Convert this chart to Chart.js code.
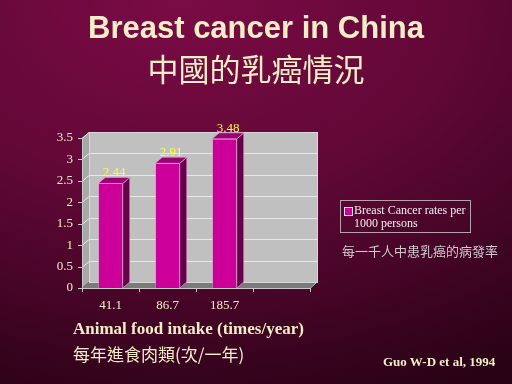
<!DOCTYPE html>
<html><head><meta charset="utf-8">
<script src="https://cdn.jsdelivr.net/npm/chart.js@4/dist/chart.umd.min.js"></script>
<style>
html,body{margin:0;padding:0;}
body{width:512px;height:384px;overflow:hidden;position:relative;
 background:radial-gradient(ellipse 120% 110% at 35% 0%, #7a0b45 0%, #620837 45%, #3e0422 80%, #2a0216 100%);}
#wrap{position:absolute;left:0;top:0;width:512px;height:384px;}
.t{position:absolute;white-space:nowrap;}
#t1{left:0;width:512px;text-align:center;top:10px;font:bold 31px "Liberation Sans",Arial,sans-serif;color:#f3eec6;}
#t2{left:0;width:512px;text-align:center;top:49px;font:31px "Noto Sans CJK TC",sans-serif;color:#f3eec6;line-height:38px;}
#ax1{left:73px;top:319px;font:bold 17px "Liberation Serif",serif;color:#f3eec6;}
#ax2{left:73px;top:341px;font:17px "Noto Sans CJK TC",serif;color:#f3eec6;}
#src{left:383px;top:354px;font:bold 13px "Liberation Serif",serif;color:#f3eec6;}
#leg{left:340px;top:200px;width:131px;height:33px;border:1px solid #b8a0ac;box-sizing:border-box;font:12px "Liberation Serif",serif;color:#f0f0f0;line-height:13px;padding:3px 0 0 13px;}
#leg i{position:absolute;left:3px;top:6px;width:7px;height:7px;background:#cc0099;border:1px solid #ddd;}
#note{left:342px;top:241px;font:13px "Noto Sans CJK TC",sans-serif;color:#d0c8cc;}
</style></head>
<body>
<div id="wrap"><canvas id="c" width="512" height="384"></canvas></div>
<div class="t" id="t1">Breast cancer in China</div>
<div class="t" id="t2">中國的乳癌情況</div>
<div class="t" id="leg"><i></i>Breast Cancer rates per<br>1000 persons</div>
<div class="t" id="note">每一千人中患乳癌的病發率</div>
<div class="t" id="ax1">Animal food intake (times/year)</div>
<div class="t" id="ax2">每年進食肉類(次/一年)</div>
<div class="t" id="src">Guo W-D et al, 1994</div>
<script>
const categories = ["41.1", "86.7", "185.7", ""];
const rates = [2.44, 2.91, 3.48, null];
const yTicks = [0, 0.5, 1, 1.5, 2, 2.5, 3, 3.5];
const seriesLabel = "Breast Cancer rates per 1000 persons";

const DX = 7, DY = 6;

const wallPlugin = {
  id: 'wall',
  beforeDatasetsDraw(chart) {
    const {ctx, chartArea: a, scales: {y}} = chart;
    ctx.save();
    ctx.fillStyle = '#c0c0c0';
    ctx.fillRect(a.left + DX, a.top - DY, a.right - a.left, a.bottom - a.top);
    ctx.beginPath();
    ctx.moveTo(a.left, a.top); ctx.lineTo(a.left + DX, a.top - DY);
    ctx.lineTo(a.left + DX, a.bottom - DY); ctx.lineTo(a.left, a.bottom);
    ctx.closePath(); ctx.fillStyle = '#a8a8a8'; ctx.fill();
    ctx.beginPath();
    ctx.moveTo(a.left, a.bottom); ctx.lineTo(a.left + DX, a.bottom - DY);
    ctx.lineTo(a.right + DX, a.bottom - DY); ctx.lineTo(a.right, a.bottom);
    ctx.closePath(); ctx.fillStyle = '#7a7a7a'; ctx.fill();
    ctx.strokeStyle = '#e8e8e8'; ctx.lineWidth = 1;
    yTicks.forEach(v => {
      if (v === 0) return;
      const py = Math.round(y.getPixelForValue(v)) + 0.5;
      ctx.beginPath();
      ctx.moveTo(a.left, py); ctx.lineTo(a.left + DX, py - DY);
      ctx.lineTo(a.right + DX, py - DY);
      ctx.stroke();
    });
    ctx.strokeStyle = '#d8d8d8';
    ctx.strokeRect(a.left + DX + 0.5, a.top - DY + 0.5, a.right - a.left, a.bottom - a.top);
    ctx.strokeStyle = '#c8c8c8';
    ctx.beginPath();
    ctx.moveTo(a.left + 0.5, a.top); ctx.lineTo(a.left + 0.5, a.bottom + 0.5);
    ctx.lineTo(a.right, a.bottom + 0.5); ctx.lineTo(a.right + DX, a.bottom - DY);
    ctx.stroke();
    yTicks.forEach(v => {
      const py = Math.round(y.getPixelForValue(v)) + 0.5;
      ctx.beginPath(); ctx.moveTo(a.left - 4, py); ctx.lineTo(a.left, py); ctx.stroke();
    });
    const n = categories.length, w = (a.right - a.left) / n;
    for (let i = 0; i <= n; i++) {
      const px = Math.round(a.left + i * w) + 0.5;
      ctx.beginPath(); ctx.moveTo(px, a.bottom); ctx.lineTo(px, a.bottom + 4); ctx.stroke();
    }
    ctx.restore();
  },
  afterDatasetsDraw(chart) {
    const {ctx} = chart;
    const meta = chart.getDatasetMeta(0);
    ctx.save();
    meta.data.forEach((bar, i) => {
      const v = rates[i];
      if (v == null) return;
      const l = bar.x - bar.width / 2, r = bar.x + bar.width / 2, t = bar.y, b = bar.base;
      ctx.beginPath();
      ctx.moveTo(r, t); ctx.lineTo(r + DX, t - DY); ctx.lineTo(r + DX, b - DY); ctx.lineTo(r, b);
      ctx.closePath(); ctx.fillStyle = '#66004a'; ctx.fill();
      ctx.strokeStyle = '#f0a0d8'; ctx.lineWidth = 0.6; ctx.stroke();
      ctx.beginPath();
      ctx.moveTo(l, t); ctx.lineTo(l + DX, t - DY); ctx.lineTo(r + DX, t - DY); ctx.lineTo(r, t);
      ctx.closePath(); ctx.fillStyle = '#990073'; ctx.fill(); ctx.stroke();
      ctx.fillStyle = '#ffff33';
      ctx.font = '13px "Liberation Serif", serif';
      ctx.textAlign = 'center'; ctx.textBaseline = 'bottom';
      ctx.fillText(v.toFixed(2), bar.x + DX / 2, t - DY + 2);
    });
    ctx.restore();
  }
};

new Chart(document.getElementById('c'), {
  type: 'bar',
  data: {
    labels: categories,
    datasets: [{
      label: seriesLabel,
      data: rates,
      backgroundColor: '#cc0099',
      borderColor: '#f0a0d8',
      borderWidth: 0.6,
      categoryPercentage: 1,
      barPercentage: 0.43
    }]
  },
  options: {
    responsive: false,
    animation: false,
    events: [],
    layout: {padding: {left: 0, right: 202, top: 138, bottom: 0}},
    plugins: {legend: {display: false}, tooltip: {enabled: false}},
    scales: {
      x: {
        grid: {display: false}, border: {display: false},
        ticks: {color: '#f3eec6', font: {family: '"Liberation Serif", serif', size: 13}, padding: 2, maxRotation: 0},
        afterFit(s) { s.height = 96; }
      },
      y: {
        min: 0, max: 3.5,
        afterBuildTicks(s) { s.ticks = yTicks.map(v => ({value: v})); },
        grid: {display: false}, border: {display: false},
        ticks: {color: '#f3eec6', font: {family: '"Liberation Serif", serif', size: 13}, padding: 1,
          callback: v => String(v)},
        afterFit(s) { s.width = 82; }
      }
    }
  },
  plugins: [wallPlugin]
});
</script>
</body></html>
